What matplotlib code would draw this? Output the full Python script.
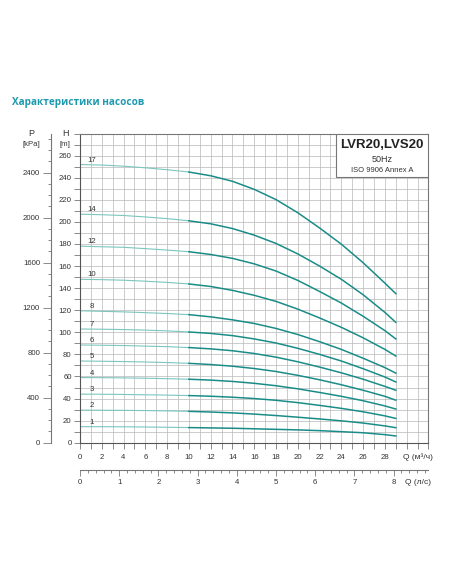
import numpy as np
import matplotlib
matplotlib.use('Agg')
import matplotlib.pyplot as plt
from matplotlib.patches import Rectangle

plt.rcParams['font.family'] = ['Liberation Sans', 'DejaVu Sans']

# flow points (m3/h) at which the curves were read
q = [0, 2, 4, 6, 8, 10, 12, 14, 16, 18, 20, 22, 24, 26, 28, 29]
stages = [17, 14, 12, 10, 8, 7, 6, 5, 4, 3, 2, 1]
h17 = [252, 251.5, 250.5, 249, 247.3, 245.2, 241.8, 236.8, 229.5, 220.2, 208.3, 194.5, 179.8, 163, 144.5, 135]
h14 = [207, 206.5, 205.8, 204.5, 203, 201, 198.3, 194, 188, 180.5, 171, 160, 148, 134, 118, 109]
h12 = [178, 177.5, 177, 175.8, 174.5, 173, 170.5, 167, 162, 155.5, 147, 137, 126.5, 114.5, 101.5, 94]
h10 = [148, 147.7, 147.2, 146.3, 145.2, 143.8, 141.5, 138, 133.5, 128, 121, 113, 104.5, 95, 84.5, 78.5]
h8 = [119.5, 119, 118.5, 117.8, 117, 116, 114, 111.3, 108, 103.5, 98, 91.5, 84.5, 76.5, 68, 63]
h7 = [103, 102.8, 102.5, 102, 101.3, 100.3, 99, 97, 94, 90.3, 85.5, 80, 74, 67, 59.5, 55]
h6 = [88.5, 88.3, 88, 87.5, 87, 86.2, 85, 83.3, 80.8, 77.5, 73.3, 68.5, 63.3, 57.5, 51, 47.5]
h5 = [74, 73.8, 73.5, 73.1, 72.6, 71.9, 70.8, 69.3, 67.2, 64.5, 61, 57, 52.5, 47.5, 42, 38.5]
h4 = [59, 58.9, 58.7, 58.4, 58, 57.5, 56.7, 55.5, 53.8, 51.6, 48.8, 45.5, 42, 38, 33.3, 30.5]
h3 = [44, 43.9, 43.7, 43.4, 43.1, 42.7, 42.1, 41.2, 40, 38.4, 36.3, 33.8, 31.1, 28, 24.3, 22]
h2 = [29.5, 29.4, 29.3, 29.1, 28.8, 28.4, 27.8, 27, 25.9, 24.6, 23.1, 21.5, 19.8, 17.8, 15.2, 13.6]
h1 = [14.5, 14.5, 14.4, 14.2, 14, 13.7, 13.4, 13.1, 12.6, 12.1, 11.6, 10.9, 10, 9, 7.3, 6.1]
curves = [h17, h14, h12, h10, h8, h7, h6, h5, h4, h3, h2, h1]

q_labels = list(range(0, 29, 2))
ls_labels = list(range(0, 9))
h_labels = list(range(0, 261, 20))
p_labels = list(range(0, 2401, 400))

W, H = 452, 584
fig = plt.figure(figsize=(W / 100, H / 100), dpi=100)

def fx(px):
    return px / W

def fy(py):
    return 1 - py / H

left, right, top, bot = 80, 428.5, 133.6, 442.7
grey = '#777777'
txt = '#333333'
fs = 5.6

ax = fig.add_axes([fx(left), fy(bot), (right - left) / W, (bot - top) / H])
ax.set_xlim(0, 32)
ax.set_ylim(0, 280)
ax.set_xticks(q_labels)
ax.set_xticks(np.arange(0, 33, 1), minor=True)
ax.set_yticks(h_labels)
ax.set_yticks(np.arange(0, 281, 10), minor=True)
ax.grid(which='both', color='#b8b8b8', lw=0.5)
ax.set_axisbelow(True)
ax.tick_params(which='both', length=4, width=0.6, color=grey, labelsize=fs,
               labelcolor=txt, pad=2)
ax.tick_params(axis='x', which='both', pad=4)
for s in ax.spines.values():
    s.set_color(grey)
    s.set_linewidth(0.8)
ax.spines['left'].set_color('#555555')
ax.spines['bottom'].set_color('#555555')

light = '#7cc6be'
dark = '#1a8c88'
for n, h in zip(stages, curves):
    ax.plot(q[:6], h[:6], color=light, lw=0.8)
    ax.plot(q[5:], h[5:], color=dark, lw=1.1)
    ax.annotate(str(n), (1.1, h[0]), xytext=(0, 0.6), textcoords='offset points',
                ha='center', va='bottom', fontsize=fs, color=txt)

ax.text(-1.35, 280, 'H', ha='center', va='center', fontsize=6.5, color=txt,
        clip_on=False)
ax.text(-1.35, 270, '[m]', ha='center', va='center', fontsize=fs, color=txt,
        clip_on=False)
fig.text(fx(418), fy(457.5), 'Q (м³/ч)', ha='center', va='center', fontsize=6,
         color=txt)

# legend box
box_x0 = (336 - left) / (right - left)
box_y0 = (bot - 177.3) / (bot - top)
ax.add_patch(Rectangle((box_x0, box_y0), 1 - box_x0, 1 - box_y0,
                       transform=ax.transAxes, facecolor='white',
                       edgecolor=grey, lw=0.8, zorder=3))
cx = (box_x0 + 1) / 2
ax.text(cx, (bot - 145.5) / (bot - top), 'LVR20,LVS20', transform=ax.transAxes,
        ha='center', va='center', fontsize=9.5, fontweight='bold', color='#222222',
        zorder=4)
ax.text(cx, (bot - 159.3) / (bot - top), '50Hz', transform=ax.transAxes,
        ha='center', va='center', fontsize=6.5, color=txt, zorder=4)
ax.text(cx, (bot - 170) / (bot - top), 'ISO 9906 Annex A', transform=ax.transAxes,
        ha='center', va='center', fontsize=5.5, color=txt, zorder=4)

# pressure axis
kpa = 9.80665
pax = fig.add_axes([fx(51), fy(bot), 0.0001, (bot - top) / H])
pax.set_ylim(0, 280 * kpa)
pax.set_xticks([])
pax.set_yticks(p_labels)
pax.set_yticks(np.arange(0, 280 * kpa, 100), minor=True)
for k in ['top', 'right', 'bottom']:
    pax.spines[k].set_visible(False)
pax.spines['left'].set_color(grey)
pax.spines['left'].set_linewidth(0.8)
pax.tick_params(axis='y', which='major', length=5.5, width=0.6, color=grey,
                labelsize=fs, labelcolor=txt, pad=2.4)
pax.tick_params(axis='y', which='minor', length=2.4, width=0.6, color=grey)
fig.text(fx(31), fy(133.6), 'P', ha='center', va='center', fontsize=6.5, color=txt)
fig.text(fx(31), fy(144), '[kPa]', ha='center', va='center', fontsize=fs, color=txt)

# l/s axis
lax = fig.add_axes([fx(left), fy(470), (right - left) / W, 0.0001])
lax.set_xlim(0, 32 / 3.6)
lax.set_yticks([])
lax.set_xticks(ls_labels)
lax.set_xticks(np.arange(0, 32 / 3.6, 0.2), minor=True)
for k in ['top', 'right', 'left']:
    lax.spines[k].set_visible(False)
lax.spines['bottom'].set_color(grey)
lax.spines['bottom'].set_linewidth(0.8)
lax.tick_params(axis='x', which='major', length=4.3, width=0.6, color=grey,
                labelsize=fs, labelcolor=txt, pad=2)
lax.tick_params(axis='x', which='minor', length=2.4, width=0.6, color=grey)
fig.text(fx(418), fy(482.7), 'Q (л/с)', ha='center', va='center', fontsize=6,
         color=txt)

fig.text(fx(12), fy(102), 'Характеристики насосов', ha='left', va='center',
         fontsize=7.2, fontweight='bold', color='#1e9ab0',
         family=['Open Sans', 'DejaVu Sans'])

fig.savefig('out.png', dpi=100)
